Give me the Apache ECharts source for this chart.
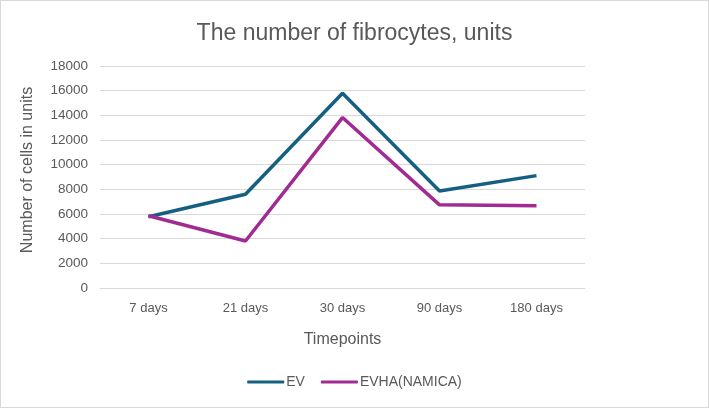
<!DOCTYPE html>
<html><head><meta charset="utf-8">
<script src="https://cdn.jsdelivr.net/npm/echarts@6/dist/echarts.min.js"></script>
<style>html,body{margin:0;padding:0;background:#fff}#c{width:707px;height:406px;border:1px solid #d9d9d9}</style>
</head><body><div id="c"></div>
<script>
const categories = ['7 days', '21 days', '30 days', '90 days', '180 days'];
const evValues = [5780, 7600, 15790, 7870, 9110];
const evhaValues = [5860, 3810, 13820, 6740, 6660];
const yTicks = {min: 0, max: 18000, interval: 2000};
const chart = echarts.init(document.getElementById('c'));
const txt = '#595959';
const ff = 'Liberation Sans, Arial, sans-serif';
chart.setOption({
  animation: false,
  title: {text: 'The number of fibrocytes, units', left: 'center', top: 16,
    textStyle: {fontFamily: ff, fontSize: 23, fontWeight: 'normal', color: txt}},
  grid: {left: 99, right: 123, top: 65, bottom: 119},
  legend: {bottom: 13, left: 'center', itemWidth: 37, itemHeight: 3, itemGap: 16,
    icon: 'roundRect',
    textStyle: {fontFamily: ff, fontSize: 14, color: txt, padding: [0, 0, 0, -3]}},
  xAxis: {type: 'category', data: categories, boundaryGap: true,
    name: 'Timepoints', nameLocation: 'middle', nameGap: 44,
    nameTextStyle: {fontFamily: ff, fontSize: 16, color: txt},
    axisLine: {lineStyle: {color: '#d9d9d9'}}, axisTick: {show: false},
    axisLabel: {color: txt, fontSize: 13, margin: 14, fontFamily: ff}},
  yAxis: {type: 'value', min: yTicks.min, max: yTicks.max, interval: yTicks.interval,
    name: 'Number of cells in units', nameLocation: 'middle', nameGap: 64,
    nameTextStyle: {fontFamily: ff, fontSize: 16, color: txt, padding: [0, 0, 0, 14]},
    axisLine: {show: false}, axisTick: {show: false},
    splitLine: {lineStyle: {color: '#d9d9d9'}},
    axisLabel: {color: txt, fontSize: 13.5, margin: 12, fontFamily: ff, formatter: v => String(v)}},
  series: [
    {name: 'EV', type: 'line', data: evValues, symbol: 'none', lineStyle: {width: 3.5, color: '#156082'}, itemStyle: {color: '#156082'}},
    {name: 'EVHA(NAMICA)', type: 'line', data: evhaValues, symbol: 'none', lineStyle: {width: 3.5, color: '#A02B93'}, itemStyle: {color: '#A02B93'}}
  ]
});
</script></body></html>
